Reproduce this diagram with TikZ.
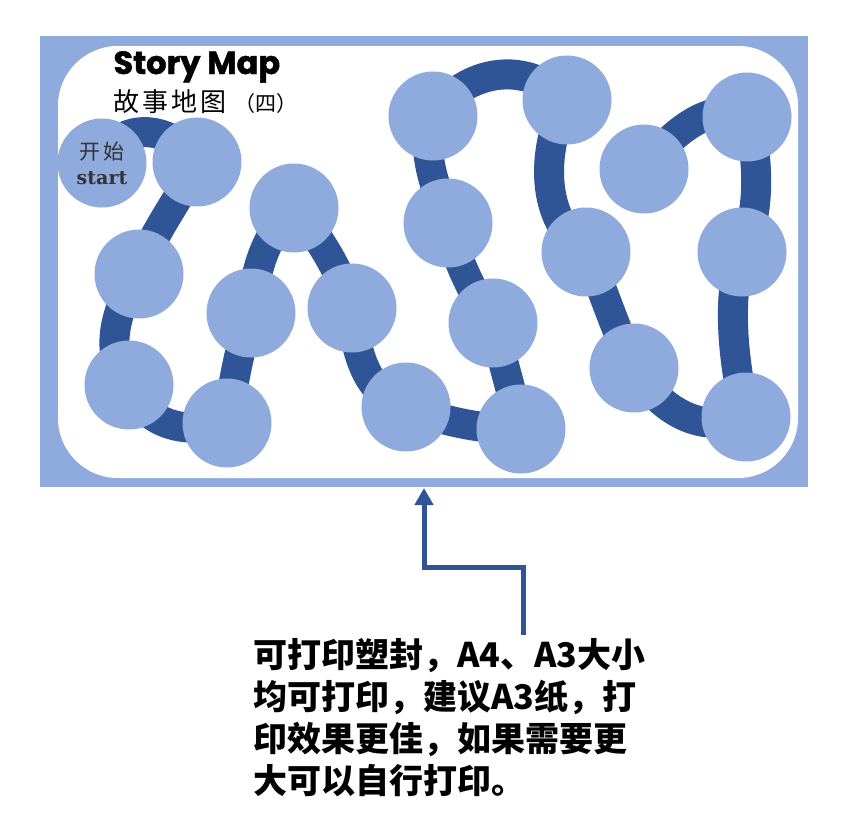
\documentclass[tikz,border=0pt]{standalone}
\usepackage{fontspec}
\newfontfamily\cjk{Noto Sans CJK SC}
\newfontfamily\titlefont{Poppins}[FakeBold=1.5]
\newfontfamily\startfont{DejaVu Serif}
\usetikzlibrary{arrows.meta}
\definecolor{mapblue}{HTML}{8FAADC}
\definecolor{trailblue}{HTML}{2F5597}
\pgfdeclarelayer{background}
\pgfsetlayers{background,main}

\begin{document}
\begin{tikzpicture} [
   x=1pt, y=-1pt,
   stop/.style={circle, fill=mapblue, minimum size=89pt, inner sep=0pt},
   trail/.style={draw=trailblue, line width=30pt},
   pointer/.style={draw=trailblue, line width=5pt, -{Triangle[width=18pt,length=17pt]}}
]
   \useasboundingbox (0,0) rectangle (853,836);
   % the stops, in walking order
   \node (start) [stop, align=center, text=black!80] at (102,163)
      {{\cjk\fontsize{21}{22}\selectfont 开\kern3pt 始}\\[9pt]{\startfont\bfseries\fontsize{19}{20}\selectfont start}};
   \node (p1)  [stop] at (197,162) {};
   \node (p2)  [stop] at (139,274) {};
   \node (p3)  [stop] at (129,385) {};
   \node (p4)  [stop] at (227,423) {};
   \node (p5)  [stop] at (251,313) {};
   \node (p6)  [stop] at (294,208) {};
   \node (p7)  [stop] at (352,308) {};
   \node (p8)  [stop] at (406,407) {};
   \node (p9)  [stop] at (521,429) {};
   \node (p10) [stop] at (493,323) {};
   \node (p11) [stop] at (448,223) {};
   \node (p12) [stop] at (433,116) {};
   \node (p13) [stop] at (567,100) {};
   \node (p14) [stop] at (586,252) {};
   \node (p15) [stop] at (634,368) {};
   \node (p16) [stop] at (746,417) {};
   \node (p17) [stop] at (742,252) {};
   \node (p18) [stop] at (747,117) {};
   \node (p19) [stop] at (644,169) {};

   \node (title) [anchor=base west, font=\titlefont\bfseries\fontsize{32}{34}\selectfont]
      at (110,74) {Story Map};
   \node (subtitle) [anchor=base west, font=\cjk\fontsize{26}{28}\selectfont]
      at (110,111) {故\kern3pt 事\kern3pt 地\kern3pt 图\kern8pt{\fontsize{21}{22}\selectfont （四）}};

   \begin{pgfonlayer}{background}
      \fill [mapblue] (40,36) rectangle (808,487);
      \fill [white, rounded corners=60pt] (58,46) rectangle (798,478);
      \draw [trail] (start.center) .. controls (115,122) and (170,122) .. (p1.center)
         .. controls (180,200) and (150,235) .. (p2.center)
         .. controls (120,300) and (100,350) .. (p3.center)
         .. controls (145,425) and (185,435) .. (p4.center)
         .. controls (232,390) and (240,345) .. (p5.center)
         .. controls (255,270) and (265,235) .. (p6.center)
         .. controls (315,230) and (340,270) .. (p7.center)
         .. controls (355,355) and (368,395) .. (p8.center)
         .. controls (440,420) and (480,430) .. (p9.center)
         -- (p10.center)
         .. controls (470,290) and (455,255) .. (p11.center)
         .. controls (435,185) and (420,150) .. (p12.center)
         .. controls (460,75) and (520,55) .. (p13.center)
         .. controls (545,140) and (535,215) .. (p14.center)
         .. controls (600,280) and (615,330) .. (p15.center)
         .. controls (660,410) and (700,435) .. (p16.center)
         .. controls (735,370) and (725,300) .. (p17.center)
         .. controls (760,215) and (760,160) .. (p18.center)
         .. controls (715,100) and (675,128) .. (p19.center);
   \end{pgfonlayer}

   % note below the map
   \node (note) [anchor=north west, align=left, inner sep=0pt,
      font=\cjk\bfseries\fontsize{34}{42}\selectfont] at (253,638)
      {可打印塑封，A4、A3大小\\均可打印，建议A3纸，打\\印效果更佳，如果需要更\\大可以自行打印。};
   \coordinate (foot) at (523,635);
   \coordinate (bend) at (424,567);
   \coordinate (tip) at (424,488);
   \draw [pointer] (foot) |- (bend) -- (tip);
\end{tikzpicture}
\end{document}
